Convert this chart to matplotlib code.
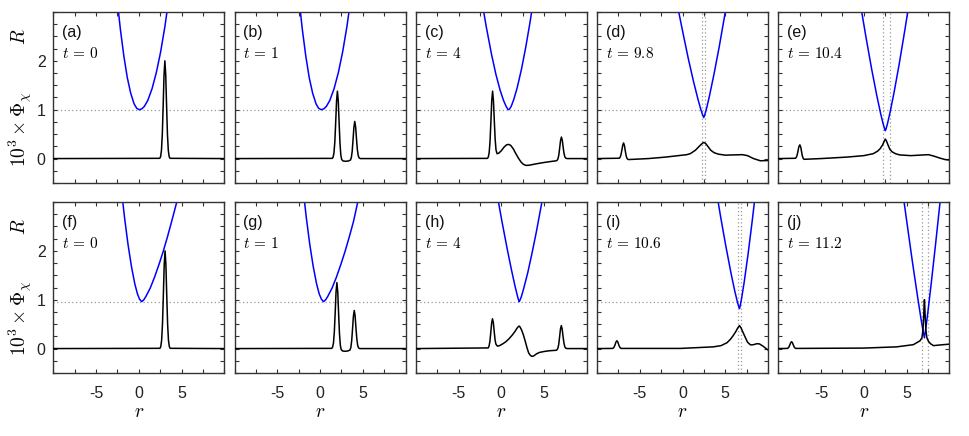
import numpy as np
import matplotlib
matplotlib.use('Agg')
import matplotlib.pyplot as plt

plt.rcParams['font.family'] = ['Liberation Sans', 'DejaVu Sans']
plt.rcParams['mathtext.fontset'] = 'cm'

# panel texts
tags = ['(a)', '(b)', '(c)', '(d)', '(e)', '(f)', '(g)', '(h)', '(i)', '(j)']
times = ['0', '1', '4', '9.8', '10.4', '0', '1', '4', '10.6', '11.2']
levels = [1.0, 1.0, 1.0, 1.0, 1.0, 0.96, 0.96, 0.96, 0.96, 0.96]
marks = [[], [], [], [2.28, 2.67], [2.28, 3.07],
         [], [], [], [6.54, 6.85], [6.86, 7.56]]

# R curves (blue)
rb_a = [-2.55, -2.15, -1.75, -1.35, -0.95, -0.55, -0.25, 0.05, 0.35, 0.65, 1.05, 1.55, 2.05, 2.55, 3.05, 3.55]
Rb_a = [3.28, 2.64, 2.10, 1.66, 1.34, 1.12, 1.03, 1.0, 1.017, 1.068, 1.19, 1.43, 1.76, 2.18, 2.70, 3.32]
rb_b = [-2.47, -2.07, -1.67, -1.27, -0.87, -0.47, -0.17, 0.14, 0.44, 0.74, 1.14, 1.64, 2.14, 2.64, 3.14, 3.64]
Rb_b = [3.28, 2.64, 2.10, 1.66, 1.34, 1.12, 1.03, 1.0, 1.017, 1.068, 1.19, 1.43, 1.76, 2.18, 2.70, 3.32]
rb_c = [-2.34, -1.74, -1.14, -0.64, -0.14, 0.26, 0.56, 0.76, 0.86, 0.96, 1.16, 1.46, 1.86, 2.36, 2.86, 3.36, 3.76]
Rb_c = [3.29, 2.68, 2.13, 1.73, 1.40, 1.19, 1.07, 1.01, 1.0, 1.014, 1.07, 1.21, 1.45, 1.83, 2.28, 2.79, 3.24]
rb_d = [-0.72, -0.02, 0.68, 1.28, 1.78, 2.13, 2.36, 2.48, 2.60, 2.83, 3.18, 3.68, 4.28, 4.98, 5.28]
Rb_d = [3.24, 2.63, 2.04, 1.58, 1.23, 1.01, 0.887, 0.84, 0.896, 1.04, 1.31, 1.73, 2.28, 2.98, 3.29]
rb_e = [-0.48, 0.22, 0.92, 1.52, 1.97, 2.27, 2.44, 2.52, 2.60, 2.77, 3.07, 3.52, 4.12, 4.82, 5.42]
Rb_e = [3.25, 2.52, 1.83, 1.29, 0.92, 0.705, 0.604, 0.57, 0.607, 0.715, 0.943, 1.335, 1.915, 2.65, 3.32]
rb_f = [-2.06, -1.66, -1.26, -0.86, -0.46, -0.16, 0.09, 0.34, 0.59, 0.84, 1.34, 1.84, 2.34, 2.84, 3.34, 3.84, 4.44, 4.84]
Rb_f = [3.29, 2.67, 2.13, 1.68, 1.32, 1.12, 1.01, 0.96, 1.0, 1.07, 1.24, 1.46, 1.71, 1.98, 2.28, 2.60, 3.0, 3.28]
rb_g = [-2.0, -1.6, -1.2, -0.8, -0.4, -0.1, 0.16, 0.41, 0.66, 0.91, 1.41, 1.91, 2.41, 2.91, 3.41, 3.91, 4.41, 4.81]
Rb_g = [3.29, 2.67, 2.13, 1.68, 1.32, 1.12, 1.01, 0.96, 1.0, 1.07, 1.24, 1.46, 1.71, 1.98, 2.28, 2.60, 3.0, 3.28]
rb_h = [-0.61, 0.09, 0.69, 1.19, 1.59, 1.84, 1.99, 2.09, 2.19, 2.34, 2.59, 3.09, 3.59, 4.09, 4.75, 5.09]
Rb_h = [3.27, 2.59, 2.04, 1.61, 1.29, 1.11, 1.01, 0.96, 0.993, 1.06, 1.21, 1.55, 1.95, 2.38, 3.0, 3.33]
rb_i = [3.86, 4.46, 5.06, 5.66, 6.11, 6.41, 6.58, 6.66, 6.74, 6.91, 7.21, 7.66, 8.16, 8.66]
Rb_i = [3.32, 2.69, 2.10, 1.55, 1.175, 0.957, 0.855, 0.82, 0.873, 1.03, 1.36, 1.93, 2.63, 3.38]
rb_j = [4.49, 5.09, 5.69, 6.29, 6.69, 6.94, 7.09, 7.24, 7.49, 7.89, 8.39, 8.92, 9.19]
Rb_j = [3.28, 2.52, 1.77, 1.06, 0.61, 0.353, 0.22, 0.40, 0.74, 1.34, 2.13, 3.0, 3.45]

# 10^3 x Phi_chi curves (black)
rk_a = [-10, 2.45, 2.55, 2.65, 2.75, 2.85, 2.95, 3.05, 3.15, 3.25, 3.35, 3.45, 3.55, 3.65, 10]
pk_a = [0, 0.005, 0.04, 0.17, 0.5, 1.08, 1.71, 2.0, 1.71, 1.08, 0.5, 0.17, 0.04, 0.005, 0]
rk_b = [-10, 1.43, 1.53, 1.63, 1.73, 1.83, 1.93, 2.03, 2.13, 2.23, 2.33, 2.43, 2.53, 2.7, 3.0, 3.3,
        3.56, 3.66, 3.76, 3.86, 3.96, 4.06, 4.16, 4.26, 4.36, 4.46, 4.56, 4.7, 10]
pk_b = [0, 0.004, 0.03, 0.12, 0.345, 0.745, 1.18, 1.38, 1.18, 0.74, 0.32, 0.07, -0.02, -0.05, -0.055, -0.05,
        -0.03, 0.02, 0.15, 0.39, 0.64, 0.76, 0.65, 0.41, 0.19, 0.065, 0.016, 0, 0]
rk_c = [-10, -1.62, -1.52, -1.42, -1.32, -1.22, -1.12, -1.02, -0.92, -0.82, -0.72, -0.62, -0.5, -0.3,
        0.0, 0.3, 0.6, 0.86, 1.1, 1.4, 1.7, 2.0, 2.3, 2.6, 2.9, 3.3, 4.0, 5.0, 6.0, 6.43, 6.53, 6.63,
        6.73, 6.83, 6.93, 7.03, 7.13, 7.23, 7.33, 7.43, 7.53, 7.7, 10]
pk_c = [0, 0.004, 0.03, 0.12, 0.345, 0.745, 1.18, 1.38, 1.19, 0.78, 0.40, 0.18, 0.10, 0.11,
        0.16, 0.23, 0.28, 0.29, 0.27, 0.20, 0.10, 0.01, -0.07, -0.12, -0.14, -0.135, -0.11, -0.08, -0.055, -0.045, -0.035, -0.004,
        0.076, 0.22, 0.37, 0.44, 0.377, 0.238, 0.11, 0.037, 0.009, 0, 0]
rk_d = [-10, -7.4, -7.3, -7.2, -7.1, -7.0, -6.9, -6.8, -6.7, -6.6, -6.5, -6.4, -6.3, -4.0, -2.0, -0.5,
        0.5, 0.9, 1.5, 2.0, 2.3, 2.48, 2.7, 3.0, 3.3, 3.7, 4.2, 5.0, 6.0, 7.0, 7.6, 8.3, 9.1, 10]
pk_d = [0, 0.007, 0.027, 0.08, 0.17, 0.27, 0.32, 0.27, 0.16, 0.06, 0.005, -0.015, -0.02, 0.0, 0.03, 0.06,
        0.08, 0.1, 0.17, 0.26, 0.31, 0.33, 0.31, 0.24, 0.17, 0.12, 0.09, 0.07, 0.075, 0.08, 0.06, 0.0, -0.045, -0.04]
rk_e = [-10, -8.0, -7.9, -7.8, -7.7, -7.6, -7.48, -7.38, -7.28, -7.18, -7.08, -6.98, -5.0, -2.0, 0.0,
        1.1, 1.6, 1.9, 2.2, 2.4, 2.52, 2.65, 2.85, 3.05, 3.3, 3.7, 4.2, 5.5, 6.5, 7.56, 8.2, 8.9, 9.5, 10]
pk_e = [0, 0.006, 0.024, 0.07, 0.15, 0.24, 0.28, 0.24, 0.14, 0.05, 0.0, -0.015, 0.0, 0.03, 0.06,
        0.1, 0.15, 0.2, 0.28, 0.36, 0.40, 0.36, 0.27, 0.19, 0.14, 0.1, 0.075, 0.06, 0.07, 0.08, 0.05, 0.01, -0.02, -0.03]
rk_f = [-10, 2.47, 2.57, 2.67, 2.77, 2.87, 2.97, 3.07, 3.17, 3.27, 3.37, 3.47, 3.57, 3.67, 10]
pk_f = [0, 0.005, 0.04, 0.17, 0.5, 1.08, 1.71, 2.0, 1.71, 1.08, 0.5, 0.17, 0.04, 0.005, 0]
rk_g = [-10, 1.37, 1.47, 1.57, 1.67, 1.77, 1.87, 1.97, 2.07, 2.17, 2.27, 2.37, 2.47, 2.64, 2.94, 3.24,
        3.5, 3.6, 3.7, 3.8, 3.9, 4.0, 4.1, 4.2, 4.3, 4.4, 4.5, 4.64, 10]
pk_g = [0, 0.004, 0.03, 0.115, 0.34, 0.73, 1.16, 1.35, 1.16, 0.72, 0.31, 0.07, -0.02, -0.05, -0.055, -0.05,
        -0.03, 0.02, 0.16, 0.40, 0.66, 0.78, 0.67, 0.42, 0.2, 0.066, 0.016, 0, 0]
rk_h = [-10, -1.53, -1.43, -1.33, -1.23, -1.13, -1.03, -0.93, -0.83, -0.73, -0.63, -0.45, -0.2, 0.2,
        0.53, 0.9, 1.3, 1.6, 1.85, 2.0, 2.09, 2.2, 2.4, 2.6, 2.8, 3.0, 3.2, 3.4, 3.58, 3.8, 4.1, 4.44,
        5.0, 5.6, 6.42, 6.52, 6.62, 6.72, 6.82, 6.92, 7.02, 7.12, 7.22, 7.32, 7.42, 7.52, 7.7, 10]
pk_h = [0, 0.013, 0.052, 0.15, 0.33, 0.52, 0.61, 0.53, 0.35, 0.18, 0.09, 0.05, 0.06, 0.10,
        0.14, 0.2, 0.28, 0.35, 0.42, 0.45, 0.46, 0.44, 0.37, 0.27, 0.15, 0.02, -0.09, -0.14, -0.16, -0.15, -0.11, -0.08,
        -0.06, -0.045, -0.035, -0.024, 0.008, 0.09, 0.24, 0.40, 0.47, 0.40, 0.25, 0.12, 0.04, 0.01, 0, 0]
rk_i = [-10, -8.18, -8.08, -7.98, -7.88, -7.78, -7.68, -7.58, -7.48, -7.38, -7.28, -7.18, -0.26, 3.6,
        4.5, 5.2, 5.6, 5.9, 6.2, 6.45, 6.66, 6.85, 7.1, 7.36, 7.6, 7.95, 8.3, 8.7, 9.0, 9.4, 9.7, 10]
pk_i = [0, 0.003, 0.014, 0.04, 0.086, 0.137, 0.16, 0.137, 0.086, 0.04, 0.014, 0.003, 0.003, 0.035,
        0.06, 0.12, 0.19, 0.26, 0.34, 0.42, 0.47, 0.42, 0.32, 0.22, 0.13, 0.075, 0.08, 0.1, 0.095, 0.05, 0.01, -0.03]
rk_j = [-10, -8.95, -8.85, -8.75, -8.65, -8.55, -8.45, -8.35, -8.25, -8.15, -8.05, -7.95, 0.0, 3.85,
        5.8, 6.58, 6.8, 6.92, 7.0, 7.05, 7.09, 7.13, 7.18, 7.26, 7.38, 7.56, 7.8, 8.15, 8.7, 9.3, 10]
pk_j = [0, 0.003, 0.012, 0.035, 0.076, 0.12, 0.14, 0.12, 0.076, 0.035, 0.012, 0.003, 0.01, 0.035,
        0.08, 0.16, 0.22, 0.38, 0.65, 0.88, 1.0, 0.88, 0.65, 0.38, 0.22, 0.15, 0.1, 0.06, 0.07, 0.08, 0.09]

blue_r = [rb_a, rb_b, rb_c, rb_d, rb_e, rb_f, rb_g, rb_h, rb_i, rb_j]
blue_R = [Rb_a, Rb_b, Rb_c, Rb_d, Rb_e, Rb_f, Rb_g, Rb_h, Rb_i, Rb_j]
black_r = [rk_a, rk_b, rk_c, rk_d, rk_e, rk_f, rk_g, rk_h, rk_i, rk_j]
black_phi = [pk_a, pk_b, pk_c, pk_d, pk_e, pk_f, pk_g, pk_h, pk_i, pk_j]

xtick_pos = [-10, -7.5, -5, -2.5, 0, 2.5, 5, 7.5, 10]
xtick_txt = ['', '', '-5', '', '0', '', '5', '', '']
ytick_pos = [-0.5, -0.25, 0, 0.25, 0.5, 0.75, 1, 1.25, 1.5, 1.75, 2, 2.25, 2.5, 2.75, 3]
ytick_txt = ['', '', '0', '', '', '', '1', '', '', '', '2', '', '', '', '']

W, H = 969, 436
fig = plt.figure(figsize=(W / 100, H / 100), dpi=100)

edge = '#333333'
for k in range(10):
    row, col = divmod(k, 5)
    left = 53.3 + col * 181.25
    bottom = 183 if row == 0 else 373
    ax = fig.add_axes([left / W, 1 - bottom / H, 171 / W, 171 / H])

    ax.axhline(levels[k], color='#999999', lw=0.9, ls=(0, (1, 2)), zorder=1)
    for m in marks[k]:
        ax.axvline(m, color='#999999', lw=0.9, ls=(0, (1, 2)), zorder=1)
    ax.plot(blue_r[k], blue_R[k], color='#0000ff', lw=1.1, zorder=2)
    ax.plot(black_r[k], black_phi[k], color='black', lw=1.1, zorder=3)

    ax.set_xlim(-10, 10)
    ax.set_ylim(-0.5, 3)
    ax.set_xticks(xtick_pos)
    ax.set_yticks(ytick_pos)
    ax.set_xticklabels(xtick_txt if row == 1 else [''] * len(xtick_pos))
    ax.set_yticklabels(ytick_txt if col == 0 else [''] * len(ytick_pos))
    ax.tick_params(direction='in', top=True, right=True, length=3, width=0.8,
                   color=edge, labelsize=11.5, labelcolor='#222222')
    ax.tick_params(axis='x', pad=9.0)
    ax.tick_params(axis='y', pad=5.5)
    for s in ax.spines.values():
        s.set_color(edge)
        s.set_linewidth(1.0)

    ax.text(0.052, 0.883, tags[k], transform=ax.transAxes, fontsize=11.5,
            ha='left', va='center', color='#111111')
    ax.text(0.052, 0.757, r'$t\,=\,' + times[k] + '$', transform=ax.transAxes,
            fontsize=11, ha='left', va='center')

    if row == 1:
        fig.text((left + 85.5) / W, 1 - 412 / H, '$r$', fontsize=14,
                 ha='center', va='center')

for top in [12, 201.7]:
    fig.text(20 / W, 1 - (top + 25) / H, '$R$', fontsize=14, rotation=90,
             ha='center', va='center')
    fig.text(20 / W, 1 - (top + 117) / H, r'$10^3\times\Phi_\chi$', fontsize=14,
             rotation=90, ha='center', va='center')

fig.savefig('out.png', dpi=100)
